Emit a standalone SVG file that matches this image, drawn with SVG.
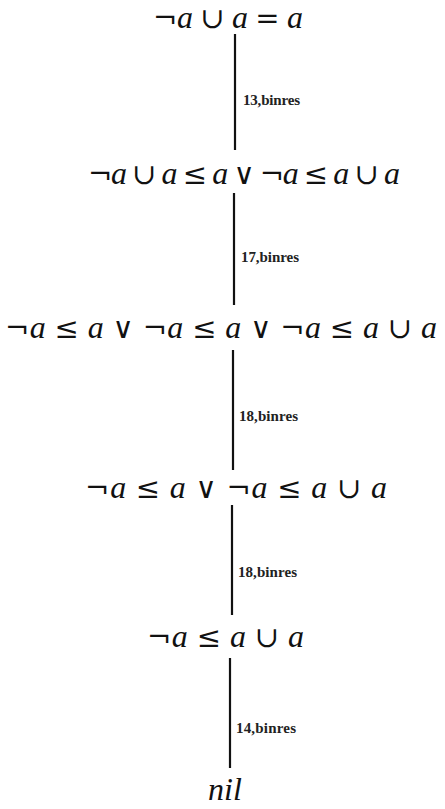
<svg xmlns="http://www.w3.org/2000/svg" width="445" height="809" viewBox="0 0 445 809">
<style>
.m{font-family:"Liberation Serif","DejaVu Serif",serif;font-size:32px;fill:#111}
.i{font-style:italic}
.o{font-family:"DejaVu Serif",serif;font-size:29px}
.l{font-family:"Liberation Serif","DejaVu Serif",serif;font-size:15px;font-weight:bold;fill:#222}
.e{stroke:#111;stroke-width:2.2;fill:none}
</style>
<rect width="445" height="809" fill="#fff"/>
<g id="connectors">
<line class="e" x1="235" y1="34" x2="235" y2="150"/>
<line class="e" x1="234" y1="193" x2="234" y2="305"/>
<line class="e" x1="233" y1="350" x2="233" y2="470"/>
<line class="e" x1="232" y1="505" x2="232" y2="615"/>
<line class="e" x1="230" y1="658" x2="230" y2="768"/>
<text class="l" x="243" y="105" textLength="57">13,binres</text>
<text class="l" x="241" y="262" textLength="58">17,binres</text>
<text class="l" x="239" y="421" textLength="59">18,binres</text>
<text class="l" x="238" y="577" textLength="59">18,binres</text>
<text class="l" x="236" y="733" textLength="60">14,binres</text>
</g>
<g id="n1"><text class="m" x="153" y="28" textLength="150"><tspan class="o">¬</tspan><tspan class="i">a</tspan> <tspan class="o">∪</tspan> <tspan class="i">a</tspan> <tspan class="o">=</tspan> <tspan class="i">a</tspan></text></g>
<g id="n2"><text class="m" x="88" y="184" textLength="312"><tspan class="o">¬</tspan><tspan class="i">a</tspan> <tspan class="o">∪</tspan> <tspan class="i">a</tspan> <tspan class="o">≤</tspan> <tspan class="i">a</tspan> <tspan class="o">∨</tspan> <tspan class="o">¬</tspan><tspan class="i">a</tspan> <tspan class="o">≤</tspan> <tspan class="i">a</tspan> <tspan class="o">∪</tspan> <tspan class="i">a</tspan></text></g>
<g id="n3"><text class="m" x="5" y="338" textLength="432"><tspan class="o">¬</tspan><tspan class="i">a</tspan> <tspan class="o">≤</tspan> <tspan class="i">a</tspan> <tspan class="o">∨</tspan> <tspan class="o">¬</tspan><tspan class="i">a</tspan> <tspan class="o">≤</tspan> <tspan class="i">a</tspan> <tspan class="o">∨</tspan> <tspan class="o">¬</tspan><tspan class="i">a</tspan> <tspan class="o">≤</tspan> <tspan class="i">a</tspan> <tspan class="o">∪</tspan> <tspan class="i">a</tspan></text></g>
<g id="n4"><text class="m" x="85" y="498" textLength="302"><tspan class="o">¬</tspan><tspan class="i">a</tspan> <tspan class="o">≤</tspan> <tspan class="i">a</tspan> <tspan class="o">∨</tspan> <tspan class="o">¬</tspan><tspan class="i">a</tspan> <tspan class="o">≤</tspan> <tspan class="i">a</tspan> <tspan class="o">∪</tspan> <tspan class="i">a</tspan></text></g>
<g id="n5"><text class="m" x="147" y="647" textLength="157"><tspan class="o">¬</tspan><tspan class="i">a</tspan> <tspan class="o">≤</tspan> <tspan class="i">a</tspan> <tspan class="o">∪</tspan> <tspan class="i">a</tspan></text></g>
<g id="n6"><text class="m i" x="208" y="800">nil</text></g>
</svg>
